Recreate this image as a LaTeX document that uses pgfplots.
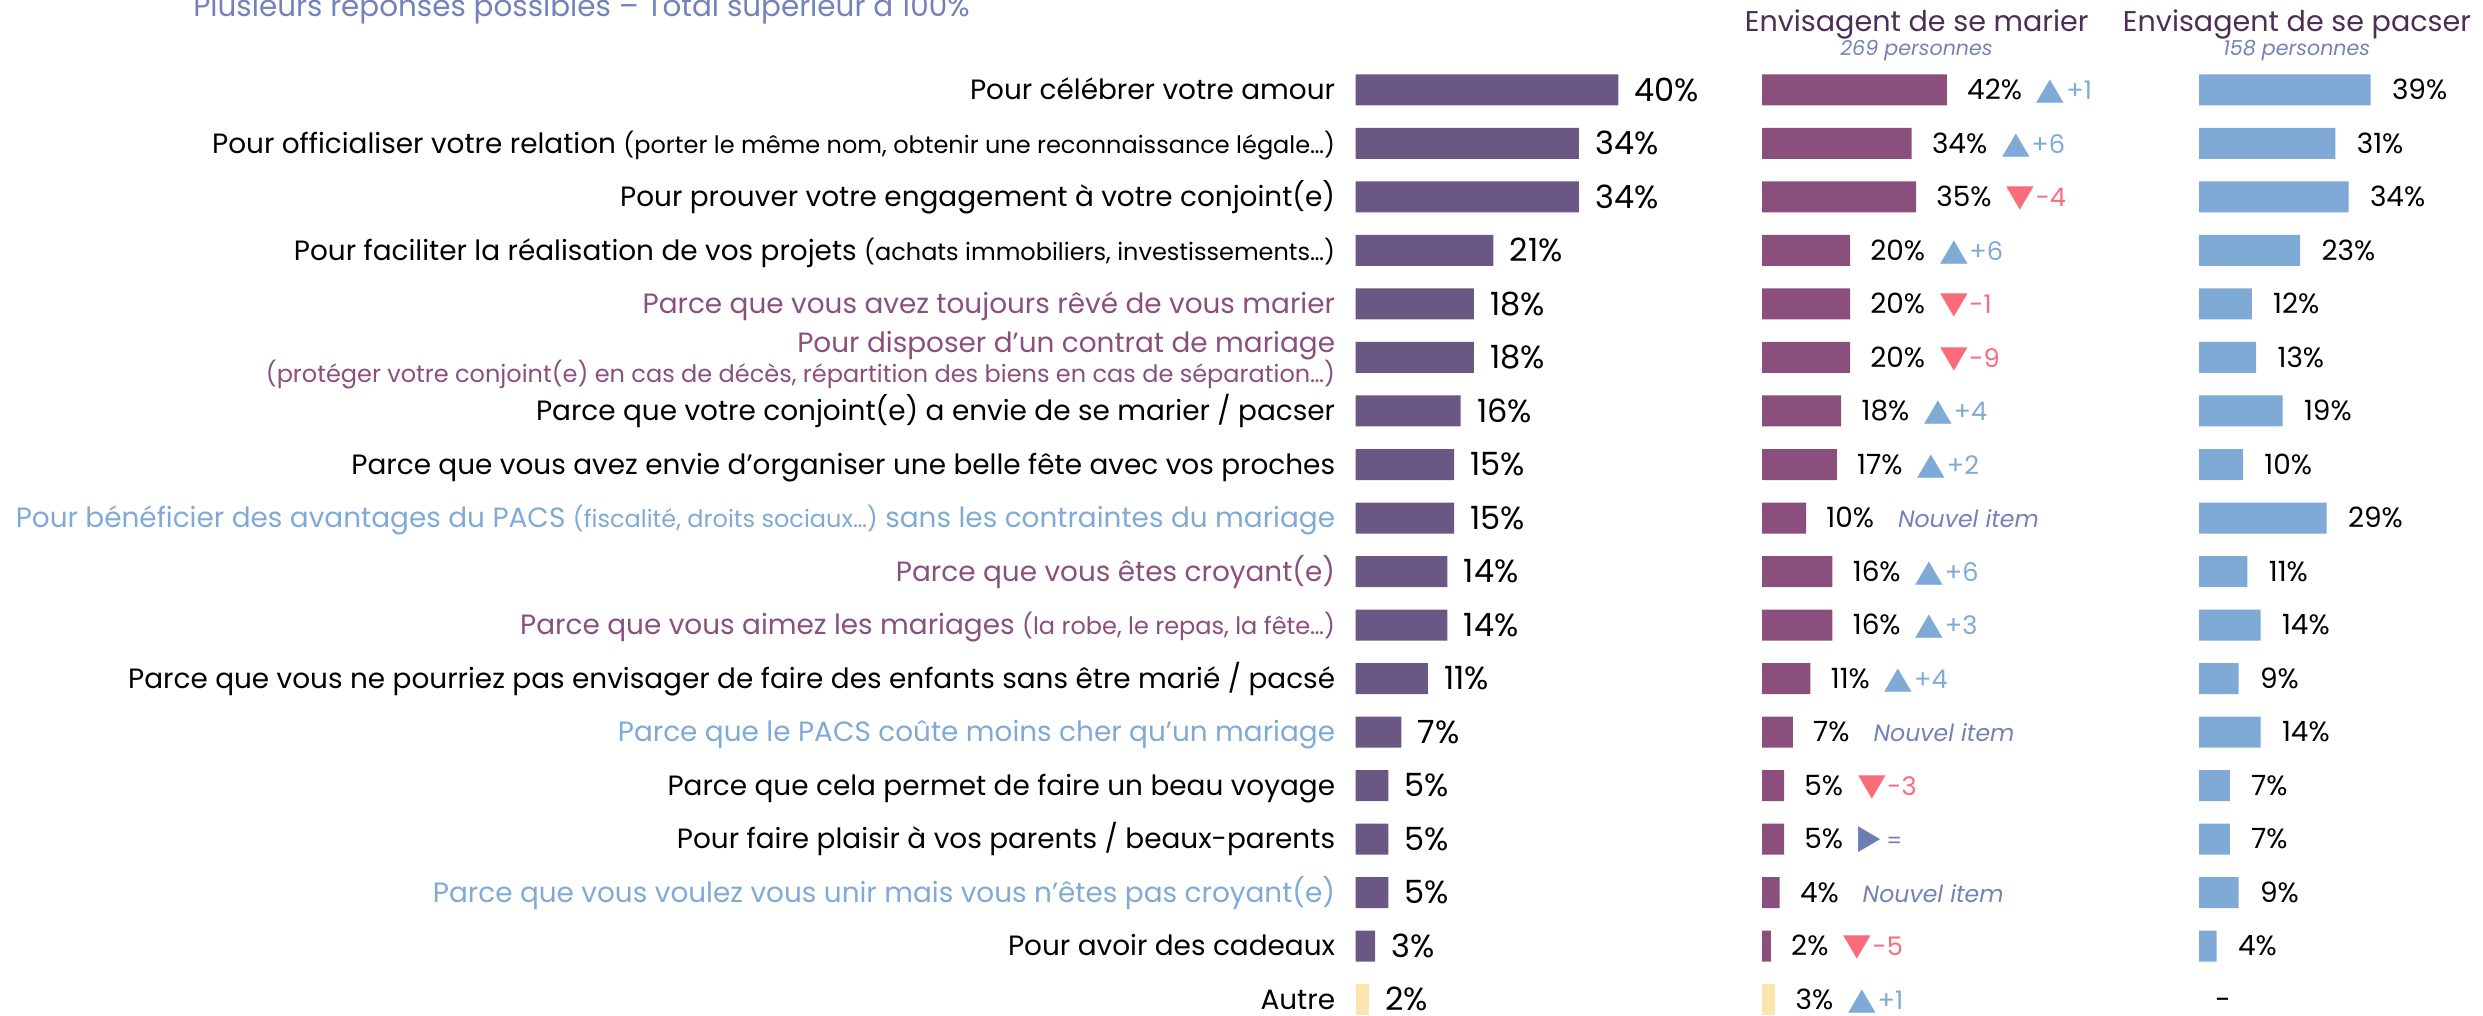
\documentclass[border=0pt]{standalone}
\usepackage{pgfplots}
\pgfplotsset{compat=1.18}
\usepackage{fontspec}
\setmainfont{Poppins}
\newfontfamily\sym{DejaVu Sans}
\usepackage{graphicx}

\definecolor{cOne}{HTML}{6B5783}
\definecolor{cTwo}{HTML}{8B4F7E}
\definecolor{cThree}{HTML}{7FAAD6}
\definecolor{cAutre}{HTML}{FAE5AF}
\definecolor{upc}{HTML}{7FAAD6}
\definecolor{dnc}{HTML}{FA6B7C}
\definecolor{eqc}{HTML}{6F7DB5}
\definecolor{hd}{HTML}{4D2F56}
\definecolor{sub}{HTML}{7482B8}
\definecolor{lp}{HTML}{8B4F7E}
\definecolor{lb}{HTML}{7FAAD6}

\newcommand\lfont{\fontsize{13.95pt}{12.5pt}\selectfont}
\newcommand\lsmall{\fontsize{12pt}{12.5pt}\selectfont}
\newcommand\dfont{\fontsize{12.8pt}{12pt}\selectfont}
\newcommand\tri[1]{\scalebox{1}[0.85]{\fontsize{18pt}{18pt}\sym #1}}
\newcommand\up[1]{\hspace{7.5pt}{\color{upc}\tri{▲}\hspace{0.8pt}\dfont #1}}
\newcommand\dn[1]{\hspace{7.5pt}{\color{dnc}\tri{▼}\hspace{0.8pt}\dfont #1}}
\newcommand\eqd{\hspace{7.5pt}{\color{eqc}\scalebox{0.85}[1]{\fontsize{17pt}{17pt}\sym ▶}\hspace{3pt}\fontsize{11pt}{11pt}\selectfont =}}
\newcommand\nouv{\hspace{12pt}{\color{sub}\fontsize{11.8pt}{12pt}\selectfont\itshape Nouvel item}}

\pgfplotsset{
  rowaxis/.style={
    scale only axis, anchor=north west, height=481.5pt,
    ymin=0.5, ymax=18.5, y dir=reverse, xmin=0, clip=false,
    axis line style={draw=none}, tick style={draw=none}, xtick=\empty,
    /pgf/number format/assume math mode=true,
  },
}
\tikzset{valnode/.style={anchor=base west, inner sep=0pt, text=black}}

\begin{document}
\begin{tikzpicture}
\path[use as bounding box] (0pt,0pt) rectangle (1241.5pt,508pt);

% Title and headers
\node[anchor=base west, inner sep=0pt, text=sub, font=\fontsize{14.7pt}{14pt}\selectfont] at (96.5pt,499.65pt) {Plusieurs réponses possibles – Total supérieur à 100\%};
\node[anchor=base, inner sep=0pt, text=hd, font=\fontsize{14.3pt}{14pt}\selectfont] at (958.35pt,492.15pt) {Envisagent de se marier};
\node[anchor=base, inner sep=0pt, text=sub, font=\fontsize{10.3pt}{10pt}\selectfont\itshape] at (958.25pt,480pt) {269 personnes};
\node[anchor=base, inner sep=0pt, text=hd, font=\fontsize{14.3pt}{14pt}\selectfont] at (1148.5pt,492.15pt) {Envisagent de se pacser};
\node[anchor=base, inner sep=0pt, text=sub, font=\fontsize{10.3pt}{10pt}\selectfont\itshape] at (1148.35pt,480pt) {158 personnes};

% Column 1: ensemble
\begin{axis}[rowaxis, at={(677.75pt,476.375pt)}, width=131.4pt, xmax=40,
  ytick={1,...,18},
  yticklabel style={anchor=base east, inner sep=0pt, xshift=-10pt, yshift=-4.9pt, font=\lfont, text=black},
  yticklabels={
    {Pour célébrer votre amour},
    {Pour officialiser votre relation {\lsmall (porter le même nom, obtenir une reconnaissance légale…)}},
    {Pour prouver votre engagement à votre conjoint(e)},
    {Pour faciliter la réalisation de vos projets {\lsmall (achats immobiliers, investissements…)}},
    {\color{lp}Parce que vous avez toujours rêvé de vous marier},
    {\raisebox{7.6pt}{\begin{tabular}[t]{@{}r@{}}\color{lp}Pour disposer d'un contrat de mariage\\ \color{lp}\lsmall (protéger votre conjoint(e) en cas de décès, répartition des biens en cas de séparation…)\end{tabular}}},
    {Parce que votre conjoint(e) a envie de se marier / pacser},
    {Parce que vous avez envie d'organiser une belle fête avec vos proches},
    {\color{lb}Pour bénéficier des avantages du PACS {\lsmall (fiscalité, droits sociaux…)} sans les contraintes du mariage},
    {\color{lp}Parce que vous êtes croyant(e)},
    {\color{lp}Parce que vous aimez les mariages {\lsmall (la robe, le repas, la fête…)}},
    {Parce que vous ne pourriez pas envisager de faire des enfants sans être marié / pacsé},
    {\color{lb}Parce que le PACS coûte moins cher qu'un mariage},
    {Parce que cela permet de faire un beau voyage},
    {Pour faire plaisir à vos parents / beaux-parents},
    {\color{lb}Parce que vous voulez vous unir mais vous n'êtes pas croyant(e)},
    {Pour avoir des cadeaux},
    {Autre}
  },
]
\addplot[xbar, bar shift=0pt, bar width=15.5pt, fill=cOne, draw=none,
  point meta=x, nodes near coords={\pgfmathprintnumber{\pgfplotspointmeta}\%},
  every node near coord/.append style={valnode, xshift=8pt, yshift=-5.6pt, font=\fontsize{16pt}{16pt}\selectfont}]
coordinates {(40,1) (34,2) (34,3) (21,4) (18,5) (18,6) (16,7) (15,8) (15,9)
  (14,10) (14,11) (11,12) (7,13) (5,14) (5,15) (5,16) (3,17)};
\addplot[xbar, bar shift=0pt, bar width=15.5pt, fill=cAutre, draw=none,
  point meta=x, nodes near coords={\pgfmathprintnumber{\pgfplotspointmeta}\%},
  every node near coord/.append style={valnode, xshift=8pt, yshift=-5.3pt, font=\fontsize{16pt}{16pt}\selectfont}]
coordinates {(2,18)};
\end{axis}

% Column 2: envisagent de se marier
\begin{axis}[rowaxis, at={(881pt,476.375pt)}, width=92.4pt, xmax=42, ytick=\empty]
\addplot[xbar, bar shift=0pt, bar width=15.5pt, fill=cTwo, draw=none,
  point meta=explicit symbolic, nodes near coords,
  every node near coord/.append style={valnode, xshift=10pt, yshift=-4.9pt, font=\lfont}]
coordinates {
 (42,1) [42\%\up{+1}]
 (34,2) [34\%\up{+6}]
 (35,3) [35\%\dn{-4}]
 (20,4) [20\%\up{+6}]
 (20,5) [20\%\dn{-1}]
 (20,6) [20\%\dn{-9}]
 (18,7) [18\%\up{+4}]
 (17,8) [17\%\up{+2}]
 (10,9) [10\%\nouv]
 (16,10) [16\%\up{+6}]
 (16,11) [16\%\up{+3}]
 (11,12) [11\%\up{+4}]
 (7,13) [7\%\nouv]
 (5,14) [5\%\dn{-3}]
 (5,15) [5\%\eqd]
 (4,16) [4\%\nouv]
 (2,17) [2\%\dn{-5}]
};
\addplot[xbar, bar shift=0pt, bar width=15.5pt, fill=cAutre, draw=none,
  point meta=explicit symbolic, nodes near coords,
  every node near coord/.append style={valnode, xshift=10pt, yshift=-4.9pt, font=\lfont}]
coordinates {(3,18) [3\%\up{+1}]};
\end{axis}

% Column 3: envisagent de se pacser
\begin{axis}[rowaxis, at={(1099.5pt,476.375pt)}, width=85.8pt, xmax=39, ytick=\empty]
\addplot[xbar, bar shift=0pt, bar width=15.5pt, fill=cThree, draw=none,
  point meta=x, nodes near coords={\pgfmathprintnumber{\pgfplotspointmeta}\%},
  every node near coord/.append style={valnode, xshift=10.5pt, yshift=-4.9pt, font=\lfont}]
coordinates {(39,1) (31,2) (34,3) (23,4) (12,5) (13,6) (19,7) (10,8) (29,9)
  (11,10) (14,11) (9,12) (14,13) (7,14) (7,15) (9,16) (4,17)};
\addplot[xbar, bar shift=0pt, bar width=15.5pt, fill=none, draw=none,
  point meta=explicit symbolic, nodes near coords,
  every node near coord/.append style={valnode, xshift=8pt, yshift=-4.9pt, font=\lfont}]
coordinates {(0,18) [-]};
\end{axis}
\end{tikzpicture}
\end{document}
